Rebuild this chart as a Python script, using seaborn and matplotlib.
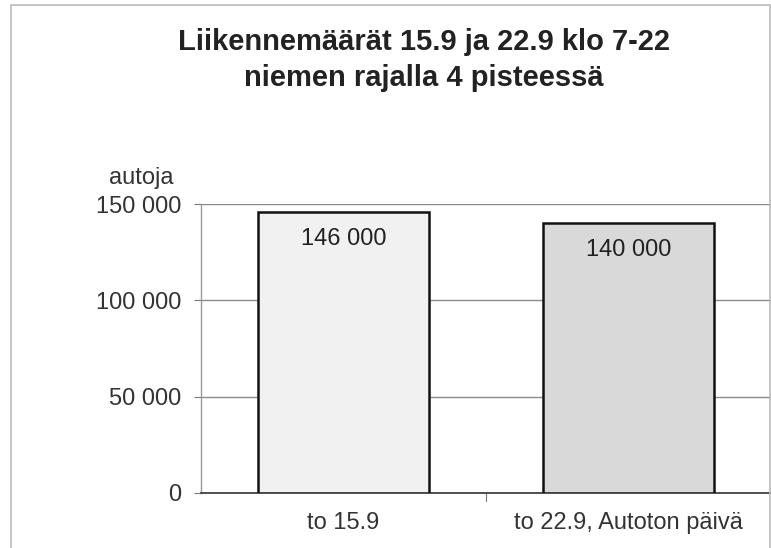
import matplotlib.pyplot as plt
import matplotlib
import seaborn as sns
import pandas as pd
from matplotlib.patches import Rectangle

# data
categories = ['to 15.9', 'to 22.9, Autoton päivä']
values = [146000, 140000]
value_labels = ['146 000', '140 000']
y_ticks = [0, 50000, 100000, 150000]
y_tick_labels = ['0', '50 000', '100 000', '150 000']
bar_colors = ['#f1f1f1', '#d9d9d9']

LABEL_SIZE = 17
TITLE_SIZE = 21

sns.set_style('white')
matplotlib.rcParams['font.family'] = ['Liberation Sans', 'DejaVu Sans']

df = pd.DataFrame({'day': categories, 'cars': values})

fig = plt.figure(figsize=(7.71, 5.48), dpi=100)
ax = fig.add_axes([0.2607, 0.1004, 0.7393, 0.5273])

sns.barplot(data=df, x='day', y='cars', hue='day', palette=bar_colors,
            width=0.6, edgecolor='#111111', linewidth=1.8, legend=False, ax=ax, zorder=3)

ax.set_xlim(-0.5, 1.5)
ax.set_ylim(0, 150000)
ax.set_yticks(y_ticks)
ax.set_yticklabels(y_tick_labels, fontsize=LABEL_SIZE, color='#333333')
ax.tick_params(axis='y', length=5, color='#777777', width=0.8, pad=9, left=True)
ax.set_xticks([0, 1])
ax.set_xticklabels(categories, fontsize=LABEL_SIZE, color='#333333')
ax.tick_params(axis='x', length=0, pad=14)
ax.set_xlabel('')
ax.set_ylabel('')
ax.grid(axis='y', color='#8a8a8a', linewidth=1.0, zorder=0)
ax.grid(axis='x', visible=False)

for s in ['top', 'right']:
    ax.spines[s].set_visible(False)
ax.spines['left'].set_color('#999999')
ax.spines['left'].set_linewidth(1.0)
ax.spines['bottom'].set_color('#333333')
ax.spines['bottom'].set_linewidth(1.2)

# category boundary tick
ax.plot([0.5, 0.5], [0, -4000], color='#777777', lw=0.8, clip_on=False)

for i, (v, lab) in enumerate(zip(values, value_labels)):
    ax.text(i, v - 14000, lab, ha='center', va='center', fontsize=LABEL_SIZE,
            color='#222222', zorder=4)

fig.text(173 / 771, 1 - 178 / 548, 'autoja', ha='right', va='center',
         fontsize=LABEL_SIZE, color='#333333')

fig.text(0.55, 1 - 60 / 548, 'Liikennemäärät 15.9 ja 22.9 klo 7-22\nniemen rajalla 4 pisteessä',
         ha='center', va='center', fontsize=TITLE_SIZE, fontweight='bold', color='#222222',
         linespacing=1.38)

fig.patches.append(Rectangle((0.0143, -0.01), 0.984, 1.0, transform=fig.transFigure,
                             fill=False, edgecolor='#bbbbbb', linewidth=1.2))

fig.savefig('out.png', dpi=100, facecolor='white')
